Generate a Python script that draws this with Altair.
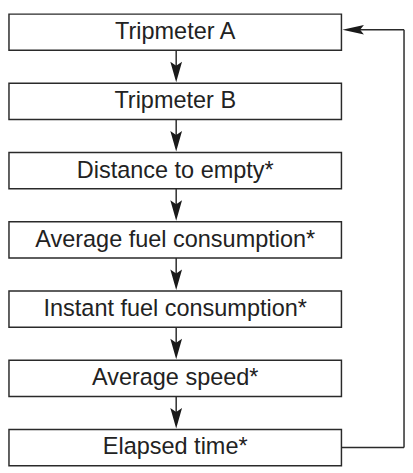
import altair as alt
import pandas as pd

# ---- content ----
steps = [
    "Tripmeter A",
    "Tripmeter B",
    "Distance to empty*",
    "Average fuel consumption*",
    "Instant fuel consumption*",
    "Average speed*",
    "Elapsed time*",
]

# ---- layout constants (page pixels) ----
W, H = 413, 473
M = 8
BOX_L, BOX_R = 5, 345
TOP0, SPACING, BOX_H = 7, 70.8, 37
CX = 176
LOOP_X = 409
LOOP_TOP_Y = 23
INK = "#2a2a2a"
HEAD_LEN = 21

tops = [TOP0 + i * SPACING for i in range(len(steps))]
boxes = pd.DataFrame({
    "label": steps,
    "x1": BOX_L, "x2": BOX_R,
    "y1": tops,
    "y2": [t + BOX_H for t in tops],
    "cx": (BOX_L + BOX_R) / 2,
    "cy": [t + BOX_H / 2 for t in tops],
})

conn = pd.DataFrame({
    "x": CX,
    "y": [t + BOX_H for t in tops[:-1]],
    "y2": [t - 12 for t in tops[1:]],
})
heads = pd.DataFrame({"x": CX, "y": [t - 1 - HEAD_LEN / 2 for t in tops[1:]]})

last_cy = tops[-1] + BOX_H / 2
loop = pd.DataFrame({
    "x": [BOX_R, LOOP_X, BOX_R + 16],
    "x2": [LOOP_X, LOOP_X, LOOP_X],
    "y": [last_cy, last_cy, LOOP_TOP_Y],
    "y2": [last_cy, LOOP_TOP_Y, LOOP_TOP_Y],
})
loop_head = pd.DataFrame({"x": [BOX_R + 1 + 11], "y": [LOOP_TOP_Y]})

xs = alt.Scale(domain=[M, W - M], nice=False, zero=False)
ys = alt.Scale(domain=[M, H - M], nice=False, zero=False, reverse=True)

def X(f):
    return alt.X(f, type="quantitative", scale=xs, axis=None)

def Y(f):
    return alt.Y(f, type="quantitative", scale=ys, axis=None)

rects = alt.Chart(boxes).mark_rect(fill="white", stroke=INK, strokeWidth=1.5).encode(
    x=X("x1"), x2="x2", y=Y("y1"), y2="y2"
)
texts = alt.Chart(boxes).mark_text(
    font="Liberation Sans", fontSize=24, color="#222222", align="center", baseline="middle"
).encode(x=X("cx"), y=Y("cy"), text="label:N")

connectors = alt.Chart(conn).mark_rule(color=INK, strokeWidth=1.5).encode(
    x=X("x"), y=Y("y"), y2="y2"
)
down_heads = alt.Chart(heads).mark_point(
    shape="M0,1L-0.57,-1L0,-0.62L0.57,-1Z", size=HEAD_LEN ** 2, filled=True,
    color="#1a1a1a", opacity=1
).encode(x=X("x"), y=Y("y"))

loop_lines = alt.Chart(loop).mark_rule(color=INK, strokeWidth=1.5).encode(
    x=X("x"), x2="x2", y=Y("y"), y2="y2"
)
left_head = alt.Chart(loop_head).mark_point(
    shape="M-1,0L1,-0.45L0.64,0L1,0.45Z", size=484, filled=True, color="#1a1a1a", opacity=1
).encode(x=X("x"), y=Y("y"))

chart = alt.layer(rects, texts, connectors, down_heads, loop_lines, left_head).properties(
    width=W - 2 * M, height=H - 2 * M, padding=0
).configure_view(stroke=None)

chart.save("out.html", embed_options={"renderer": "svg", "actions": False})
